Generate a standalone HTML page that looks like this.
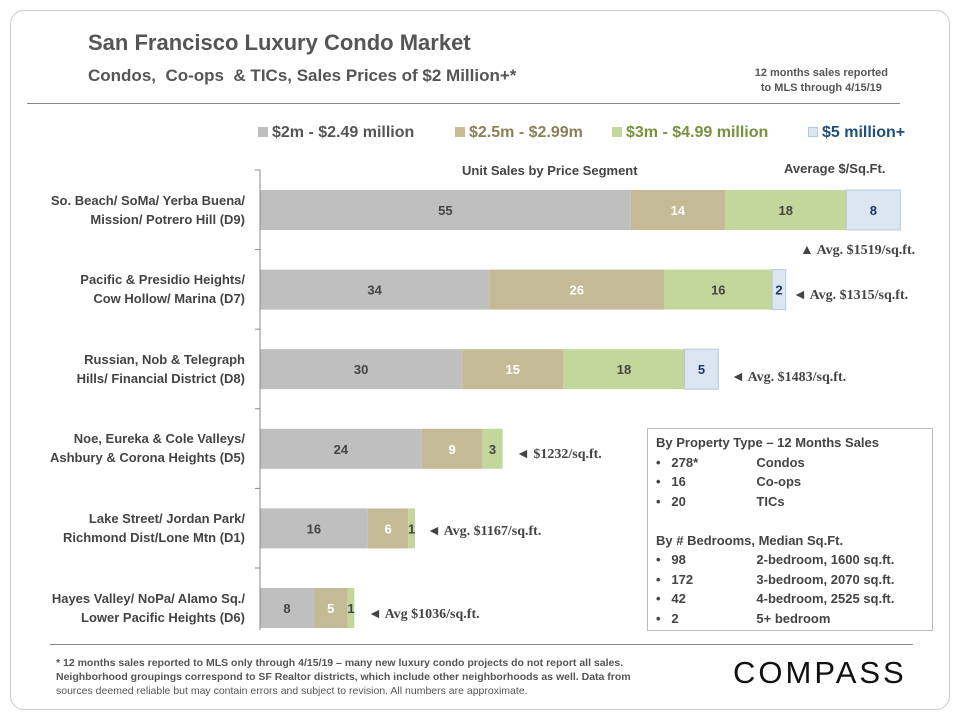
<!DOCTYPE html>
<html><head><meta charset="utf-8"><style>
body{margin:0;width:960px;height:720px;background:#fff;font-family:"Liberation Sans Narrow","Liberation Sans",sans-serif;position:relative;overflow:hidden}
.a{position:absolute;white-space:nowrap}
.card{position:absolute;left:10px;top:10px;width:938px;height:698px;border:1px solid #ccc;border-radius:14px}
.title{left:88px;top:30px;font-size:22px;font-weight:bold;color:#555}
.sub{left:88px;top:66px;font-size:17px;font-weight:bold;color:#555}
.note{right:72px;top:66px;font-size:11px;color:#555;text-align:center;font-weight:bold;line-height:15px}
.leg{top:124px;font-size:16px;font-weight:bold}
.sw{display:inline-block;width:10px;height:10px;margin-right:4px}
.cat{right:715px;font-size:13px;font-weight:bold;color:#444;text-align:right;line-height:19px}
.avg{font-family:"Liberation Serif",serif;font-size:14px;font-weight:bold;color:#444}
.box{left:647px;top:428px;width:286px;height:203px;border:1px solid #bbb;font-family:"Liberation Sans",sans-serif;font-size:13px;font-weight:bold;color:#444;line-height:19.5px;padding:4px 8px;box-sizing:border-box}
.box span{display:inline-block;width:85px}
.foot{left:56px;top:656px;font-family:"Liberation Sans",sans-serif;font-size:10.5px;color:#555;line-height:14px;font-weight:bold}
</style></head><body>
<div class="card"></div>
<div class="a title">San Francisco Luxury Condo Market</div>
<div class="a sub">Condos,&nbsp; Co-ops &nbsp;&amp; TICs, Sales Prices of $2 Million+*</div>
<div class="a note">12 months sales reported<br>to MLS through 4/15/19</div>
<div class="a" style="left:27px;top:103px;width:873px;height:1px;background:#888"></div>
<div class="a leg" style="left:258px;color:#555"><span class="sw" style="background:#bfbfbf"></span>$2m - $2.49 million</div>
<div class="a leg" style="left:455px;color:#8a7f57"><span class="sw" style="background:#c4bb96"></span>$2.5m - $2.99m</div>
<div class="a leg" style="left:612px;color:#76923c"><span class="sw" style="background:#c3d69b"></span>$3m - $4.99 million</div>
<div class="a leg" style="left:808px;color:#1f4e79"><span class="sw" style="background:#dce6f2;border:1px solid #b8c8dc;box-sizing:border-box"></span>$5 million+</div>
<div class="a" style="left:462px;top:163px;font-size:13px;font-weight:bold;color:#444">Unit Sales by Price Segment</div>
<div class="a" style="left:784px;top:161px;font-size:13px;font-weight:bold;color:#444">Average $/Sq.Ft.</div>
<svg class="a" style="left:0;top:0" width="960" height="720" id="chart"></svg>
<div class="a cat" style="top:191px">So. Beach/ SoMa/ Yerba Buena/<br>Mission/ Potrero Hill (D9)</div>
<div class="a cat" style="top:270px">Pacific &amp; Presidio Heights/<br>Cow Hollow/ Marina (D7)</div>
<div class="a cat" style="top:350px">Russian, Nob &amp; Telegraph<br>Hills/ Financial District (D8)</div>
<div class="a cat" style="top:429px">Noe, Eureka &amp; Cole Valleys/<br>Ashbury &amp; Corona Heights (D5)</div>
<div class="a cat" style="top:509px">Lake Street/ Jordan Park/<br>Richmond Dist/Lone Mtn (D1)</div>
<div class="a cat" style="top:589px">Hayes Valley/ NoPa/ Alamo Sq./<br>Lower Pacific Heights (D6)</div>
<div class="a avg" style="left:800px;top:243px">▲ Avg. $1519/sq.ft.</div>
<div class="a avg" style="left:793px;top:288px">◄ Avg. $1315/sq.ft.</div>
<div class="a avg" style="left:731px;top:370px">◄ Avg. $1483/sq.ft.</div>
<div class="a avg" style="left:516px;top:447px">◄ $1232/sq.ft.</div>
<div class="a avg" style="left:427px;top:524px">◄ Avg. $1167/sq.ft.</div>
<div class="a avg" style="left:368px;top:607px">◄ Avg $1036/sq.ft.</div>
<div class="a box">
By Property Type – 12 Months Sales<br>
•&nbsp;&nbsp; <span>278*</span>Condos<br>
•&nbsp;&nbsp; <span>16</span>Co-ops<br>
•&nbsp;&nbsp; <span>20</span>TICs<br><br>
By # Bedrooms, Median Sq.Ft.<br>
•&nbsp;&nbsp; <span>98</span>2-bedroom, 1600 sq.ft.<br>
•&nbsp;&nbsp; <span>172</span>3-bedroom, 2070 sq.ft.<br>
•&nbsp;&nbsp; <span>42</span>4-bedroom, 2525 sq.ft.<br>
•&nbsp;&nbsp; <span>2</span>5+ bedroom
</div>
<div class="a" style="left:50px;top:644px;width:863px;height:1px;background:#888"></div>
<div class="a foot">* 12 months sales reported to MLS only through 4/15/19 – many new luxury condo projects do not report all sales.<br>Neighborhood groupings correspond to SF Realtor districts, which include other neighborhoods as well. Data from<br><span style="font-weight:normal">sources deemed reliable but may contain errors and subject to revision. All numbers are approximate.</span></div>
<div class="a" style="left:733px;top:655px;font-family:'Liberation Sans',sans-serif;font-size:31px;letter-spacing:3px;color:#111">COMPASS</div>
<script>
const categories=["D9","D7","D8","D5","D1","D6"];
const seg2m=[55,34,30,24,16,8];
const seg25m=[14,26,15,9,6,5];
const seg3m=[18,16,18,3,1,1];
const seg5m=[8,2,5,0,0,0];
const svg=document.getElementById('chart');
const NS='http://www.w3.org/2000/svg';
const x0=260,scale=6.74,y0=190,step=79.6,bh=40;
const X=v=>x0+v*scale;
const Y=i=>y0+i*step;
const series=[[seg2m,'#bfbfbf','#444','seg-2m'],[seg25m,'#c4bb96','#fff','seg-2-5m'],[seg3m,'#c3d69b','#444','seg-3m'],[seg5m,'#dce6f2','#1f3864','seg-5m']];
categories.forEach((c,i)=>{
  let cum=0;
  series.forEach(([arr,fill,tc,nm])=>{
    const v=arr[i]; if(!v){return;}
    const r=document.createElementNS(NS,'rect');
    r.setAttribute('x',X(cum));r.setAttribute('y',Y(i));
    r.setAttribute('width',v*scale);r.setAttribute('height',bh);
    r.setAttribute('fill',fill);
    if(nm==='seg-5m'){r.setAttribute('stroke','#b8c8dc');}
    
    
    svg.appendChild(r);
    const t=document.createElementNS(NS,'text');
    t.setAttribute('x',X(cum+v/2));t.setAttribute('y',Y(i)+bh/2+5);
    t.setAttribute('text-anchor','middle');t.setAttribute('fill',tc);
    t.setAttribute('font-size','13');t.setAttribute('font-weight','bold');
    t.setAttribute('font-family','Liberation Sans, sans-serif');
    t.textContent=v;
    
    
    svg.appendChild(t);
    cum+=v;
  });
});
const ax=document.createElementNS(NS,'line');
ax.setAttribute('x1',x0);ax.setAttribute('x2',x0);ax.setAttribute('y1',Y(0)-20);ax.setAttribute('y2',Y(5)+bh+2);
ax.setAttribute('stroke','#888');


svg.appendChild(ax);
for(let i=0;i<categories.length;i++){
  const tk=document.createElementNS(NS,'line');
  const yy=Y(i)-20;
  tk.setAttribute('x1',x0-5);tk.setAttribute('x2',x0);tk.setAttribute('y1',yy);tk.setAttribute('y2',yy);
  tk.setAttribute('stroke','#888');
  
  
  svg.appendChild(tk);
}
</script>
</body></html>
